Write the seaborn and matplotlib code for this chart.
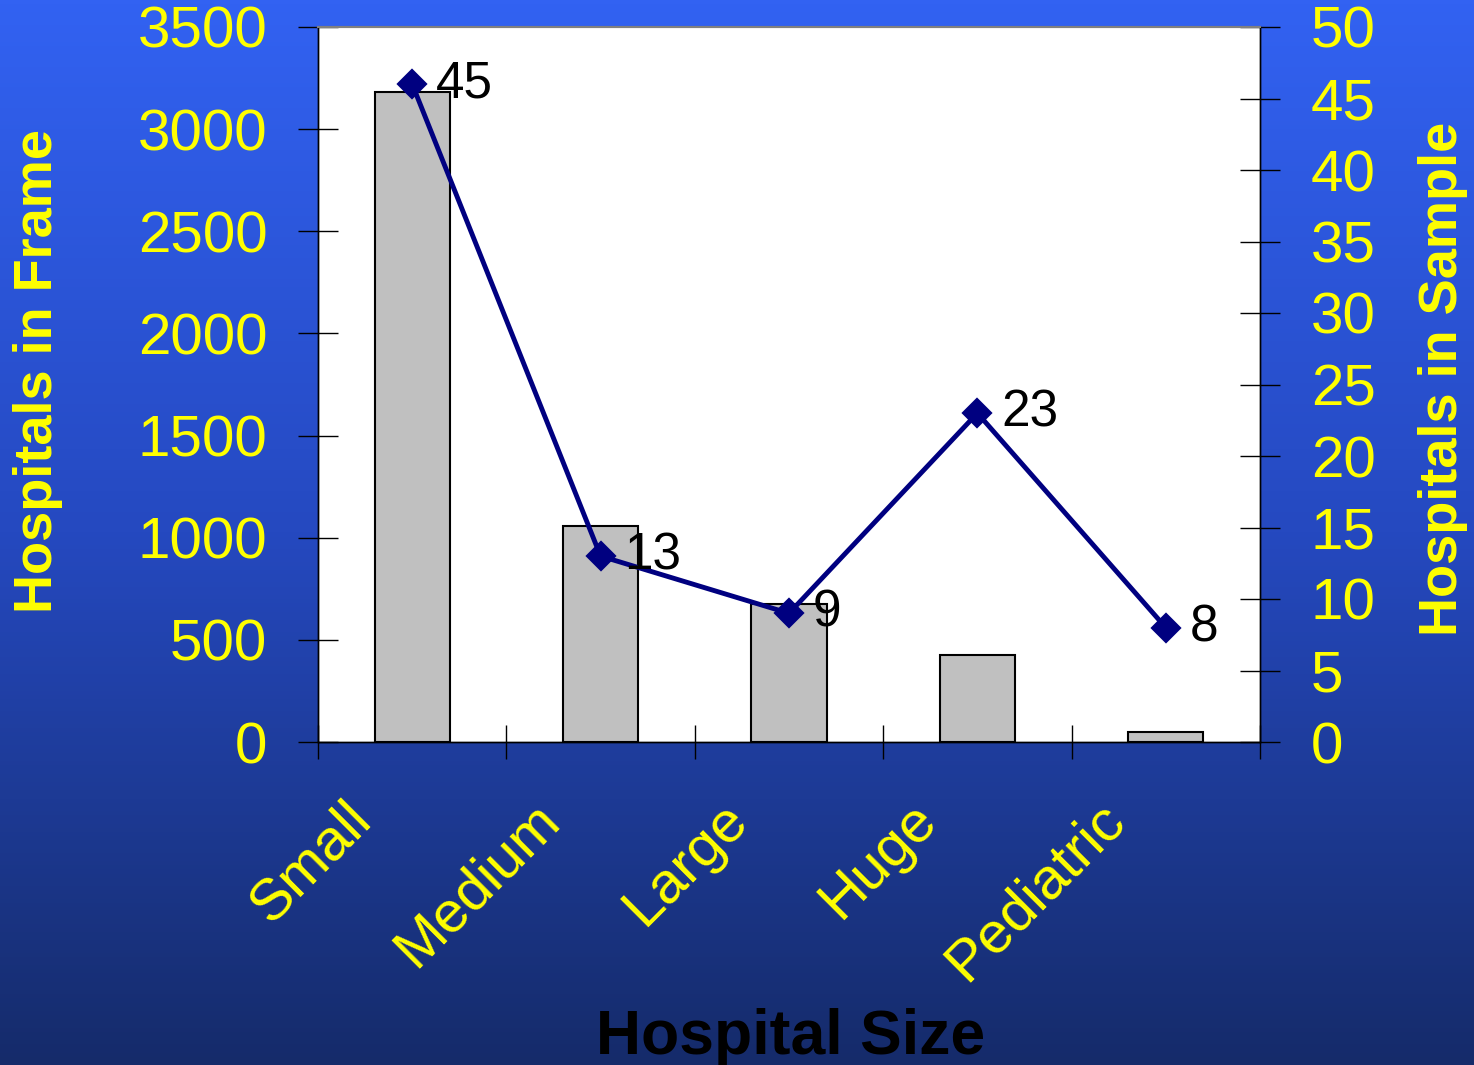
# Import libraries
import numpy as np
import matplotlib
matplotlib.use("Agg")
import matplotlib.pyplot as plt
import matplotlib.transforms as mtransforms
from matplotlib.colors import LinearSegmentedColormap
import seaborn as sns

# Data
sizes = ["Small", "Medium", "Large", "Huge", "Pediatric"]
frame_counts = [3180, 1055, 675, 425, 50]
sample_counts = [46, 13, 9, 23, 8]
sample_labels = ["45", "13", "9", "23", "8"]
left_ticks = [0, 500, 1000, 1500, 2000, 2500, 3000, 3500]
right_ticks = [0, 5, 10, 15, 20, 25, 30, 35, 40, 45, 50]

sns.set_theme(style="white")
plt.rcParams["font.family"] = ["Liberation Sans", "DejaVu Sans"]

yellow = "#FFFF00"
navy = "#000080"

fig = plt.figure(figsize=(14.74, 10.65), dpi=100)

# Gradient background
bg = fig.add_axes([0, 0, 1, 1], zorder=-10)
grad_cmap = LinearSegmentedColormap.from_list("bg", ["#3262F2", "#2549C0", "#152B6A"])
bg.imshow(np.linspace(0, 1, 256).reshape(-1, 1), aspect="auto", cmap=grad_cmap,
          extent=[0, 1, 0, 1])
bg.axis("off")

# Main axes for the bars
ax = fig.add_axes([318 / 1474, 1 - 742 / 1065, 942 / 1474, 715 / 1065])
ax.set_facecolor("white")
sns.barplot(x=sizes, y=frame_counts, ax=ax, color="#C0C0C0", width=0.4,
            edgecolor="black", linewidth=1.5, saturation=1)
ax.set_xlim(-0.5, len(sizes) - 0.5)
ax.set_ylim(0, 3500)
ax.set_yticks(left_ticks)

# Secondary axes for the sample line
ax2 = ax.twinx()
sns.pointplot(x=sizes, y=sample_counts, ax=ax2, color=navy, markers="D",
              markersize=13, linewidth=3.5)
ax2.set_xlim(-0.5, len(sizes) - 0.5)
ax2.set_ylim(0, 50)
ax2.set_yticks(right_ticks)

for i, (v, lab) in enumerate(zip(sample_counts, sample_labels)):
    ax2.annotate(lab, (i, v), xytext=(17, 0), textcoords="offset points",
                 va="center", ha="left", fontsize=37, color="black")

# Tick styling
ax.tick_params(axis="y", direction="inout", length=29, width=1, color="black",
               labelsize=42, labelcolor=yellow, pad=22, left=True)
ax2.tick_params(axis="y", direction="inout", length=29, width=1, color="black",
                labelsize=42, labelcolor=yellow, pad=22, right=True)
ax.set_xticks(np.arange(len(sizes) + 1) - 0.5, minor=True)
ax.tick_params(axis="x", which="minor", direction="inout", length=24, width=1,
               color="black", bottom=True)
ax.tick_params(axis="x", which="major", length=0, pad=50, labelsize=42,
               labelcolor=yellow)
ax.set_xticks(range(len(sizes)))
ax.set_xticklabels(sizes, rotation=45, ha="right", va="center",
                   rotation_mode="anchor")
offset = mtransforms.ScaledTranslation(-0.5, 0, fig.dpi_scale_trans)
for lab in ax.get_xticklabels():
    lab.set_transform(lab.get_transform() + offset)
ax2.tick_params(axis="x", bottom=False, top=False, labelbottom=False)
ax2.set_xlabel("")

# Spines
for a in (ax, ax2):
    for side in ("left", "bottom", "right"):
        a.spines[side].set_color("black")
        a.spines[side].set_linewidth(1)
    a.spines["top"].set_color("#808080")
    a.spines["top"].set_linewidth(1.5)

# Axis labels
ax.set_ylabel("Hospitals in Frame", fontsize=39, fontweight="bold",
              color=yellow, va="center")
ax.yaxis.set_label_coords(-0.297, 0.519)
ax2.set_ylabel("Hospitals in Sample", fontsize=39, fontweight="bold",
               color=yellow, va="center", rotation=90)
ax2.yaxis.set_label_coords(1.194, 0.508)
ax.set_xlabel("Hospital Size", fontsize=45, fontweight="bold", color="black",
              va="center")
ax.xaxis.set_label_coords(0.502, -0.413)

fig.savefig("out.png", dpi=100)
